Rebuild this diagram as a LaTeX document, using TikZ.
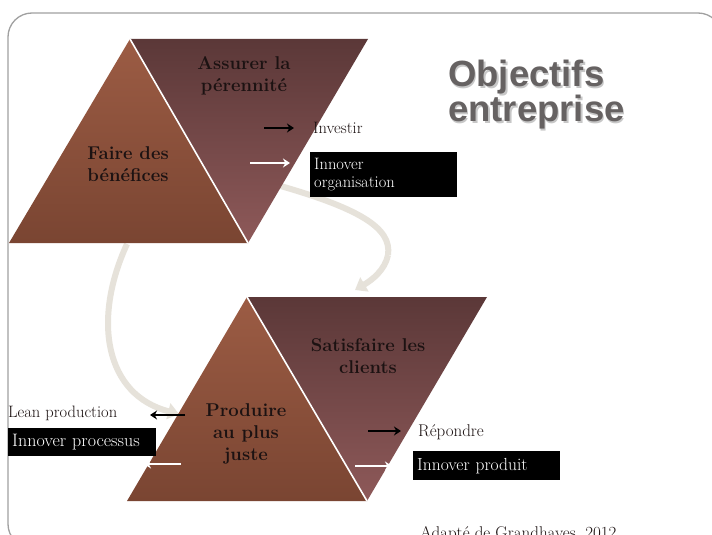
\documentclass[tikz,border=0pt]{standalone}
\usepackage{fontspec}
\newfontfamily\headfont{Liberation Sans}
\usetikzlibrary{arrows.meta}
\definecolor{tribot}{HTML}{7A4532}
\definecolor{tritop}{HTML}{9C5C44}
\definecolor{partop}{HTML}{5B3838}
\definecolor{parbot}{HTML}{8E5959}
\definecolor{curvecol}{HTML}{E6E2DA}
\definecolor{framecol}{HTML}{A0A0A0}
\definecolor{headcol}{HTML}{666262}
\definecolor{inkcol}{HTML}{1C1212}
\tikzset{
  shapelabel/.style={font=\fontsize{18.5}{22}\selectfont\bfseries, text=inkcol, align=center, inner sep=0pt},
  sidelabel/.style={font=\fontsize{16.5}{19}\selectfont, text=inkcol, anchor=west, inner sep=0pt},
  blackbox/.style={fill=black, text=white, anchor=north west, align=left, inner xsep=4pt, inner ysep=0pt},
  bigarrow/.style={line width=6pt, draw=curvecol, -{Triangle[width=16pt,length=11pt]}},
  blackarrow/.style={line width=2.4pt, draw=black, -{Stealth[length=7pt,width=9pt]}},
  whitearrow/.style={line width=2.4pt, draw=white, -{Stealth[length=7pt,width=9pt]}},
  divider/.style={draw=white, line width=1.6pt},
  framestyle/.style={draw=framecol, line width=1.3pt, rounded corners=24pt},
  headstyle/.style={anchor=north west, inner sep=0pt, align=left, font=\headfont\bfseries\fontsize{36.5}{34}\selectfont}
}
\begin{document}
\begin{tikzpicture}[x=1pt,y=-1pt]
\useasboundingbox (0,0) rectangle (712,535);
\fill[white] (0,0) rectangle (712,535);
% frame
\draw[framestyle] (8,13) rectangle (722,548);

% big curved arrows (behind shapes)
\coordinate (c1s) at (127,244);
\coordinate (c1e) at (179,414);
\draw[bigarrow] (c1s) .. controls (92,320) and (105,395) .. (c1e);
\coordinate (c2s) at (270,183);
\coordinate (c2m) at (388,255);
\coordinate (c2e) at (355,290);
\draw[line width=6pt, draw=curvecol] (c2s) .. controls (360,208) and (392,228) .. (c2m);
\draw[bigarrow] (c2m) .. controls (385,270) and (372,280) .. (c2e);

% top shape
\coordinate (ta) at (130,39);
\coordinate (tl) at (9,243);
\coordinate (tr) at (248,243);
\coordinate (tt) at (368,39);
\shade[top color=tritop, bottom color=tribot] (ta) -- (tl) -- (tr) -- cycle;
\shade[top color=partop, bottom color=parbot] (ta) -- (tt) -- (tr) -- cycle;
\draw[divider] (ta) -- (tr);

% bottom shape
\coordinate (ba) at (247,297);
\coordinate (bl) at (127,501);
\coordinate (br) at (367,501);
\coordinate (bt) at (487,297);
\shade[top color=tritop, bottom color=tribot] (ba) -- (bl) -- (br) -- cycle;
\shade[top color=partop, bottom color=parbot] (ba) -- (bt) -- (br) -- cycle;
\draw[divider] (ba) -- (br);

% labels in shapes
\node[shapelabel] (assurer) at (244,76) {Assurer la\\pérennité};
\node[shapelabel] (faire) at (128,164) {Faire des\\bénéfices};
\node[shapelabel] (satisfaire) at (368,356) {Satisfaire les\\clients};
\node[shapelabel] (produire) at (246,434) {Produire\\au plus\\juste};

% top side items
\node[sidelabel] (investir) at (313,128) {Investir};
\node[blackbox, text width=139pt, minimum height=45pt, font=\fontsize{16.5}{18}\selectfont] (innorg) at (310,152) {Innover\\organisation};
\coordinate (a1s) at (264,128);
\coordinate (a1e) at (294,128);
\draw[blackarrow] (a1s) -- (a1e);
\coordinate (a2s) at (250,163);
\coordinate (a2e) at (290,163);
\draw[whitearrow] (a2s) -- (a2e);

% bottom left items
\node[sidelabel] (lean) at (8,413) {Lean production};
\node[blackbox, text width=140pt, minimum height=28pt, font=\fontsize{18}{20}\selectfont] (innproc) at (8,428) {Innover processus};
\coordinate (a3s) at (185,415);
\coordinate (a3e) at (150,415);
\draw[blackarrow] (a3s) -- (a3e);
\coordinate (a4s) at (181,464);
\coordinate (a4e) at (144,464);
\draw[whitearrow] (a4s) -- (a4e);

% bottom right items
\node[sidelabel, font=\fontsize{17}{19}\selectfont] (repondre) at (418,432) {Répondre};
\node[blackbox, text width=139pt, minimum height=29pt, font=\fontsize{17.5}{20}\selectfont] (innprod) at (413,451) {Innover produit};
\coordinate (a5s) at (368,431);
\coordinate (a5e) at (401,431);
\draw[blackarrow] (a5s) -- (a5e);
\coordinate (a6s) at (355,466);
\coordinate (a6e) at (392,466);
\draw[whitearrow] (a6s) -- (a6e);

% heading with soft shadow
\node[headstyle, text=black, opacity=0.22] (headshadow) at (449.5,61.5) {Objectifs\\entreprise};
\node[headstyle, text=headcol] (heading) at (448,60) {Objectifs\\entreprise};

% source
\node[anchor=base west, inner sep=0pt, font=\fontsize{17}{20}\selectfont, text=inkcol] (source) at (420,538) {Adapté de Grandhayes, 2012};
\end{tikzpicture}
\end{document}
